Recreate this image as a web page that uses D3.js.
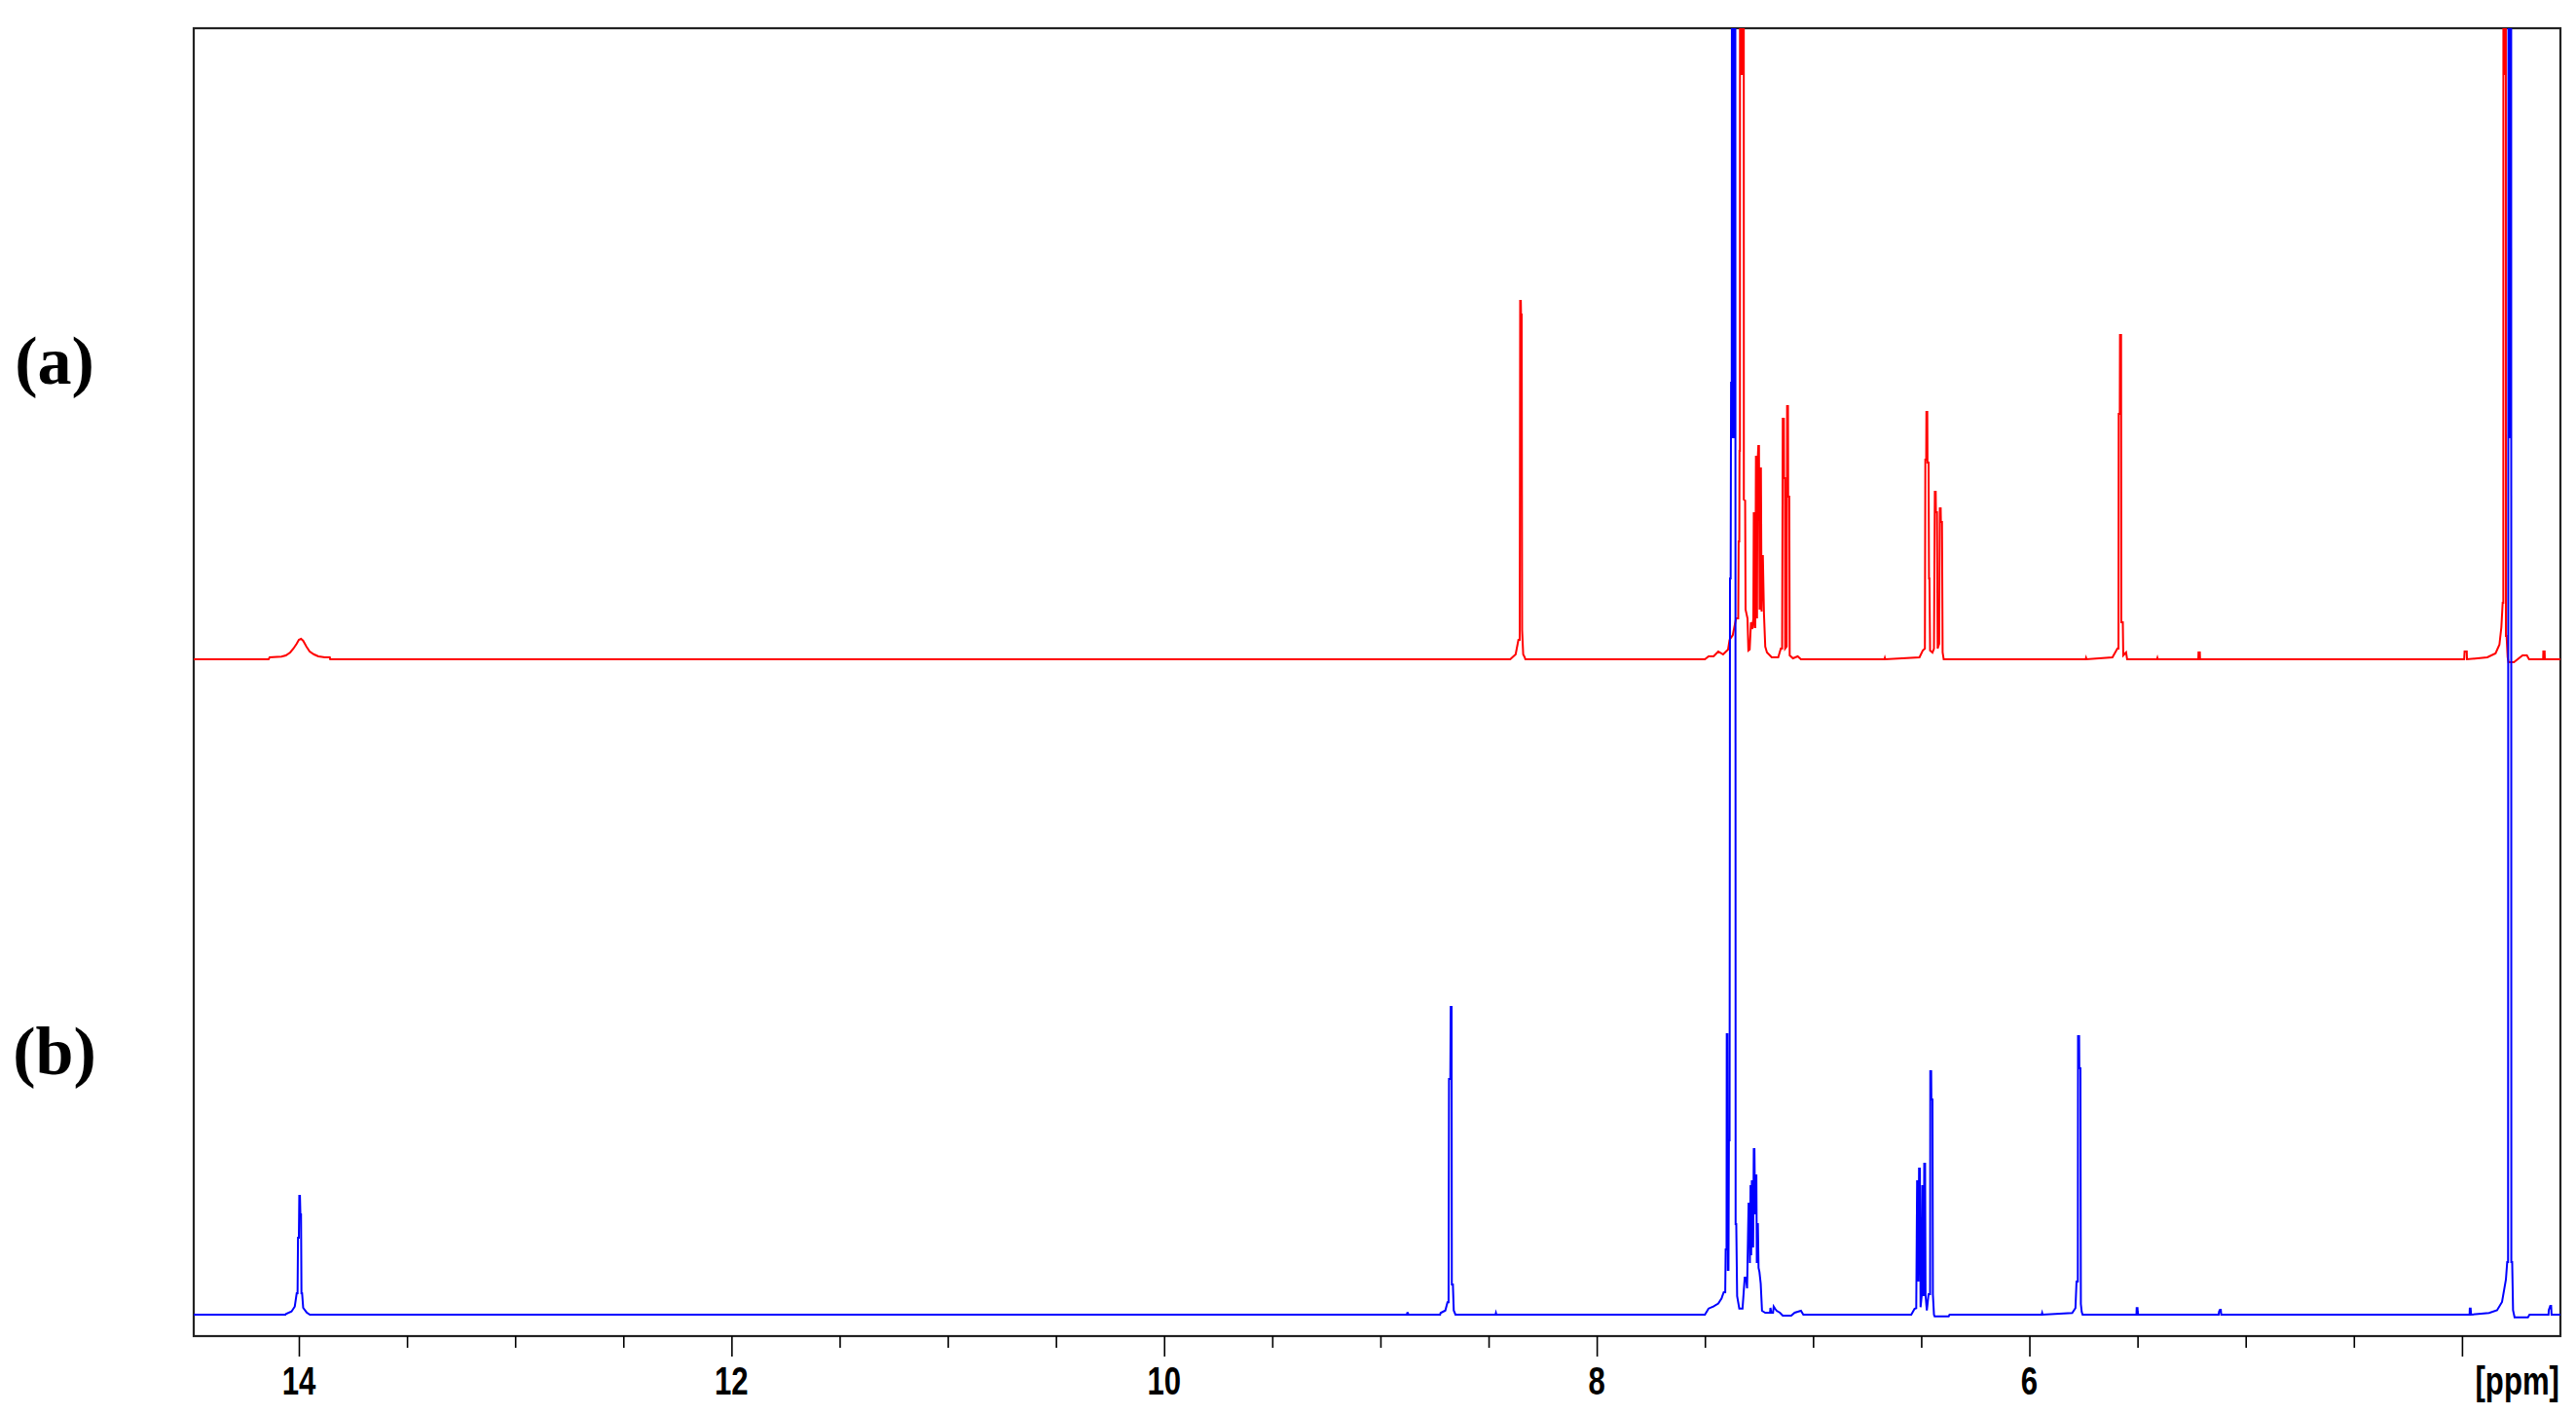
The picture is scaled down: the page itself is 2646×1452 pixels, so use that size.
<!DOCTYPE html>
<html>
<head>
<meta charset="utf-8">
<script src="https://cdn.jsdelivr.net/npm/d3@7"></script>
<style>
	body { margin: 0; background: #fff; }
	svg { display: block; }
</style>
</head>
<body>
<div id="graph"></div>
<script>
// 1H NMR spectra, (a) red on top, (b) blue below, shared ppm axis

// axis ticks (ppm)
var majorTicks = [14, 12, 10, 8, 6, 4];
var minorTicks = [13.5, 13, 12.5, 11.5, 11, 10.5, 9.5, 9, 8.5, 7.5, 7, 6.5, 5.5, 5, 4.5];
var unitLabel = "[ppm]";
var panelLabels = ["(a)", "(b)"];

// spectrum (a): [ppm, intensity]
var spectrumA = [
	[14.49, 0],
	[14.14, 0], [14.135, 0.2], [14.08, 0.27], [14.06, 0.4], [14.04, 0.7], [14.025, 1.1], [14.01, 1.6], [14.0, 2.0],
	[13.99, 2.1], [13.98, 1.9], [13.965, 1.3], [13.95, 0.8], [13.93, 0.5], [13.91, 0.3], [13.88, 0.2], [13.857, 0.2], [13.855, 0],
	[8.40, 0], [8.39, 0.2], [8.375, 0.5], [8.362, 2.0], [8.356, 2.0], [8.354, 36.8], [8.351, 36.8], [8.350, 35.4],
	[8.347, 35.4], [8.345, 3.0], [8.34, 0.5], [8.333, 0.2], [8.33, 0],
	[7.50, 0], [7.483, 0.3], [7.46, 0.3], [7.438, 0.8], [7.416, 0.5], [7.393, 1.0], [7.386, 2.0], [7.371, 2.5],
	[7.356, 4.2], [7.346, 4.2], [7.344, 12.1], [7.341, 12.1], [7.340, 21.4], [7.338, 21.4], [7.337, 200], [7.335, 60],
	[7.333, 200], [7.331, 60], [7.329, 200], [7.327, 60], [7.325, 200], [7.323, 60], [7.321, 200], [7.320, 16.4],
	[7.314, 16.3], [7.312, 5.1], [7.303, 4.2], [7.299, 0.9], [7.293, 1.0], [7.287, 3.8], [7.281, 3.1], [7.276, 4.2],
	[7.274, 15.0], [7.272, 15.0], [7.270, 3.3], [7.267, 3.3], [7.264, 20.8], [7.262, 20.8], [7.259, 4.2], [7.257, 19.9],
	[7.253, 21.9], [7.250, 21.9], [7.247, 5.1], [7.243, 19.6], [7.241, 19.6], [7.238, 4.9], [7.234, 10.6], [7.232, 10.6],
	[7.227, 4.7], [7.221, 1.3], [7.213, 0.7], [7.191, 0.2], [7.161, 0.2], [7.149, 1.1], [7.143, 1.1], [7.140, 24.7],
	[7.135, 24.7], [7.134, 18.6], [7.130, 18.6], [7.129, 1.1], [7.122, 1.3], [7.120, 26.0], [7.116, 26.0], [7.115, 16.7],
	[7.110, 16.7], [7.108, 0.4], [7.093, 0.1], [7.071, 0.3], [7.056, 0],
	[6.67, 0], [6.668, 0.15], [6.666, 0],
	[6.508, 0.2], [6.493, 0.9], [6.483, 1.1], [6.481, 20.5], [6.477, 20.5], [6.476, 25.4], [6.472, 25.4], [6.471, 20.2],
	[6.466, 20.2], [6.464, 8.3], [6.462, 8.3], [6.459, 0.9], [6.448, 0.7], [6.441, 1.1], [6.437, 17.2], [6.433, 17.2],
	[6.432, 15.1], [6.427, 15.1], [6.424, 1.1], [6.417, 1.6], [6.414, 15.5], [6.410, 15.5], [6.409, 14.1], [6.404, 14.1],
	[6.401, 0.7], [6.396, 0],
	[5.74, 0], [5.738, 0.15], [5.736, 0],
	[5.616, 0.2], [5.593, 1.1], [5.588, 1.1], [5.587, 25.2], [5.582, 25.2], [5.581, 33.3], [5.576, 33.3], [5.575, 3.8],
	[5.568, 3.8], [5.566, 0.4], [5.553, 0.7], [5.548, 0],
	[5.41, 0], [5.408, 0.15], [5.406, 0],
	[5.219, 0], [5.218, 0.7], [5.212, 0.7], [5.211, 0],
	[3.99, 0], [3.988, 0.8], [3.978, 0.8], [3.977, 0],
	[3.883, 0.2], [3.845, 0.6], [3.827, 1.5], [3.818, 3.3], [3.812, 5.8], [3.809, 5.8], [3.808, 200], [3.806, 60],
	[3.804, 200], [3.802, 60], [3.800, 200], [3.798, 200], [3.797, 2.4], [3.794, 2.4], [3.789, 0.2], [3.785, -0.3],
	[3.76, -0.3], [3.72, 0.4], [3.70, 0.4], [3.69, 0], [3.625, 0], [3.624, 0.8], [3.618, 0.8], [3.617, 0],
	[3.54, 0]
];

// spectrum (b): [ppm, intensity]
var spectrumB = [
	[14.49, 0],
	[14.062, 0], [14.060, 0.07], [14.034, 0.33], [14.019, 0.83], [14.010, 2.2], [14.006, 2.2], [14.004, 7.9], [14.000, 7.9],
	[13.998, 12.2], [13.995, 12.2], [13.993, 10.3], [13.990, 10.3], [13.988, 2.2], [13.985, 2.2], [13.980, 0.7],
	[13.964, 0.23], [13.949, 0],
	[8.878, 0], [8.876, 0.17], [8.873, 0.17], [8.871, 0],
	[8.724, 0], [8.722, 0.17], [8.70, 0.43], [8.690, 1.27], [8.685, 1.27], [8.683, 24.2], [8.677, 24.2], [8.675, 31.6],
	[8.671, 31.6], [8.670, 3.1], [8.665, 3.1], [8.661, 0.43], [8.653, 0],
	[8.468, 0], [8.466, 0.17], [8.464, 0],
	[7.50, 0], [7.483, 0.63], [7.461, 0.84], [7.438, 1.14], [7.423, 1.68], [7.413, 2.3], [7.406, 2.3], [7.404, 6.7],
	[7.400, 6.7], [7.399, 28.8], [7.396, 28.8], [7.394, 4.6], [7.391, 4.6], [7.389, 17.9], [7.386, 17.9], [7.384, 75.6],
	[7.381, 75.6], [7.379, 95.7], [7.376, 95.7], [7.374, 200], [7.372, 90], [7.370, 200], [7.368, 90], [7.366, 200],
	[7.364, 90], [7.362, 200], [7.360, 200], [7.358, 9.3], [7.355, 9.3], [7.351, 1.9], [7.341, 0.63], [7.326, 0.63],
	[7.316, 3.8], [7.310, 3.8], [7.305, 2.7], [7.298, 11.4], [7.294, 11.4], [7.292, 5.3], [7.289, 13.3], [7.286, 6.1],
	[7.283, 13.7], [7.280, 13.7], [7.277, 6.9], [7.274, 17.0], [7.271, 17.0], [7.268, 10.3], [7.265, 14.3], [7.262, 14.3],
	[7.260, 5.3], [7.258, 9.3], [7.255, 9.3], [7.252, 4.8], [7.248, 4.4], [7.242, 3.2], [7.236, 0.4], [7.221, 0.2],
	[7.199, 0.2], [7.197, 0.7], [7.193, 0.2], [7.185, 0.2], [7.182, 0.84], [7.175, 0.6], [7.168, 0.4], [7.153, 0.2],
	[7.140, -0.1], [7.101, -0.1], [7.085, 0.2], [7.071, 0.3], [7.056, 0.4], [7.045, 0],
	[6.546, 0], [6.531, 0.6], [6.523, 0.67], [6.519, 13.7], [6.515, 13.7], [6.513, 3.4], [6.510, 15.0], [6.506, 15.0],
	[6.503, 0.77], [6.498, 1.9], [6.495, 13.2], [6.491, 13.2], [6.489, 1.9], [6.486, 15.5], [6.482, 15.5], [6.480, 2.0],
	[6.474, 0.43], [6.466, 2.1], [6.459, 2.1], [6.458, 25.0], [6.454, 25.0], [6.453, 22.1], [6.448, 22.1], [6.446, 2.1],
	[6.441, 0], [6.438, -0.17], [6.373, -0.17], [6.369, 0],
	[5.943, 0], [5.941, 0.17], [5.939, 0],
	[5.802, 0.17], [5.787, 0.67], [5.782, 3.4], [5.776, 3.4], [5.775, 28.6], [5.770, 28.6], [5.769, 25.3], [5.764, 25.3],
	[5.762, 1.1], [5.758, 0.3], [5.754, 0],
	[5.505, 0], [5.504, 0.67], [5.500, 0.67], [5.499, 0.3], [5.497, 0],
	[5.125, 0], [5.123, 0.33], [5.119, 0.5], [5.115, 0.5], [5.113, 0],
	[3.965, 0], [3.964, 0.62], [3.960, 0.62], [3.958, 0],
	[3.875, 0.18], [3.838, 0.45], [3.815, 1.3], [3.797, 3.6], [3.791, 5.4], [3.787, 5.4], [3.786, 104.5], [3.784, 200],
	[3.782, 90], [3.780, 200], [3.778, 90], [3.776, 200], [3.773, 200], [3.772, 5.4], [3.768, 5.4], [3.764, 0.45],
	[3.757, -0.27], [3.695, -0.27], [3.688, 0], [3.600, 0], [3.599, 0.45], [3.592, 0.9], [3.588, 0.9], [3.586, 0],
	[3.54, 0]
];

(function() {
	// everything about the page layout lives here
	var graph = {
		container: {
			svg: null,
			width: 2646,
			height: 1452
		},
		frame: { left: 199, top: 29, right: 2630, bottom: 1372 },
		domain: [14.486, 3.545],
		x: null,
		// tick labels are a narrow bold face, done by squeezing a normal bold one
		tickFont: { size: 41, squeeze: 0.76, baseline: 1432 },
		traces: [
			{ data: spectrumA, color: "#ff0000", baseline: 677, label: panelLabels[0], labelY: 394 },
			{ data: spectrumB, color: "#0000ff", baseline: 1350, label: panelLabels[1], labelY: 1103 }
		]
	};

	// _drawFrame draws the box round the plot and the clip for the spectra
	var _drawFrame = function() {
		var f = graph.frame;
		graph.container.svg.append("clipPath")
		.attr("id", "plotClip")
		.append("rect")
		.attr("x", f.left)
		.attr("y", f.top)
		.attr("width", f.right - f.left)
		.attr("height", f.bottom - f.top);

		graph.container.svg.append("rect")
		.attr("x", f.left)
		.attr("y", f.top)
		.attr("width", f.right - f.left)
		.attr("height", f.bottom - f.top)
		.attr("fill", "none")
		.attr("stroke", "#222")
		.attr("stroke-width", 2.2);
	}

	// _squeezedText writes a bold label squeezed sideways round its own anchor point
	var _squeezedText = function(sel, x, y, anchor, txt) {
		var tf = graph.tickFont;
		sel.append("text")
		.attr("transform", "translate(" + x + "," + y + ") scale(" + tf.squeeze + ",1)")
		.attr("text-anchor", anchor)
		.attr("fill", "#000")
		.style("font-family", "'Liberation Sans', Arial, sans-serif")
		.style("font-weight", "bold")
		.style("font-size", tf.size + "px")
		.text(txt);
	}

	// _drawAxis puts the ppm axis under the frame, long ticks with labels, short ones without
	var _drawAxis = function() {
		var f = graph.frame;
		var svg = graph.container.svg;

		var minor = svg.append("g")
		.attr("transform", "translate(0," + f.bottom + ")")
		.call(d3.axisBottom(graph.x).tickValues(minorTicks).tickSize(12).tickFormat(""));

		var major = svg.append("g")
		.attr("transform", "translate(0," + f.bottom + ")")
		.call(d3.axisBottom(graph.x).tickValues(majorTicks).tickSize(21).tickFormat(""));

		[minor, major].forEach(function(g){
			g.select(".domain").remove();
			g.selectAll(".tick text").remove();
			g.selectAll(".tick line").attr("stroke", "#000").attr("stroke-width", 1.6);
		});

		var labels = svg.append("g");
		majorTicks.forEach(function(v){
			if (v === 4) return;
			_squeezedText(labels, graph.x(v), graph.tickFont.baseline, "middle", v);
		});
		_squeezedText(labels, f.right - 1, graph.tickFont.baseline, "end", unitLabel);
	}

	// _drawSpectrum draws one trace on its own baseline, clipped by the frame
	var _drawSpectrum = function(t) {
		var y = d3.scaleLinear()
		.domain([0, 100])
		.range([t.baseline, t.baseline - 1000]);

		var line = d3.line()
		.x(function(d){ return graph.x(d[0]); })
		.y(function(d){ return y(d[1]); });

		graph.container.svg.append("path")
		.datum(t.data)
		.attr("clip-path", "url(#plotClip)")
		.attr("fill", "none")
		.attr("stroke", t.color)
		.attr("stroke-width", 2)
		.attr("stroke-linejoin", "miter")
		.attr("d", line);

		graph.container.svg.append("text")
		.attr("x", 56)
		.attr("y", t.labelY)
		.attr("text-anchor", "middle")
		.style("font-family", "'Liberation Serif', 'Times New Roman', serif")
		.style("font-weight", "bold")
		.style("font-size", "70px")
		.text(t.label);
	}

	var _render = function() {
		graph.container.svg = d3.select("#graph").append("svg")
		.attr("width", graph.container.width)
		.attr("height", graph.container.height);

		graph.x = d3.scaleLinear()
		.domain(graph.domain)
		.range([graph.frame.left, graph.frame.right]);

		_drawFrame();
		graph.traces.forEach(_drawSpectrum);
		_drawAxis();
	}

	_render();
})();
</script>
</body>
</html>
